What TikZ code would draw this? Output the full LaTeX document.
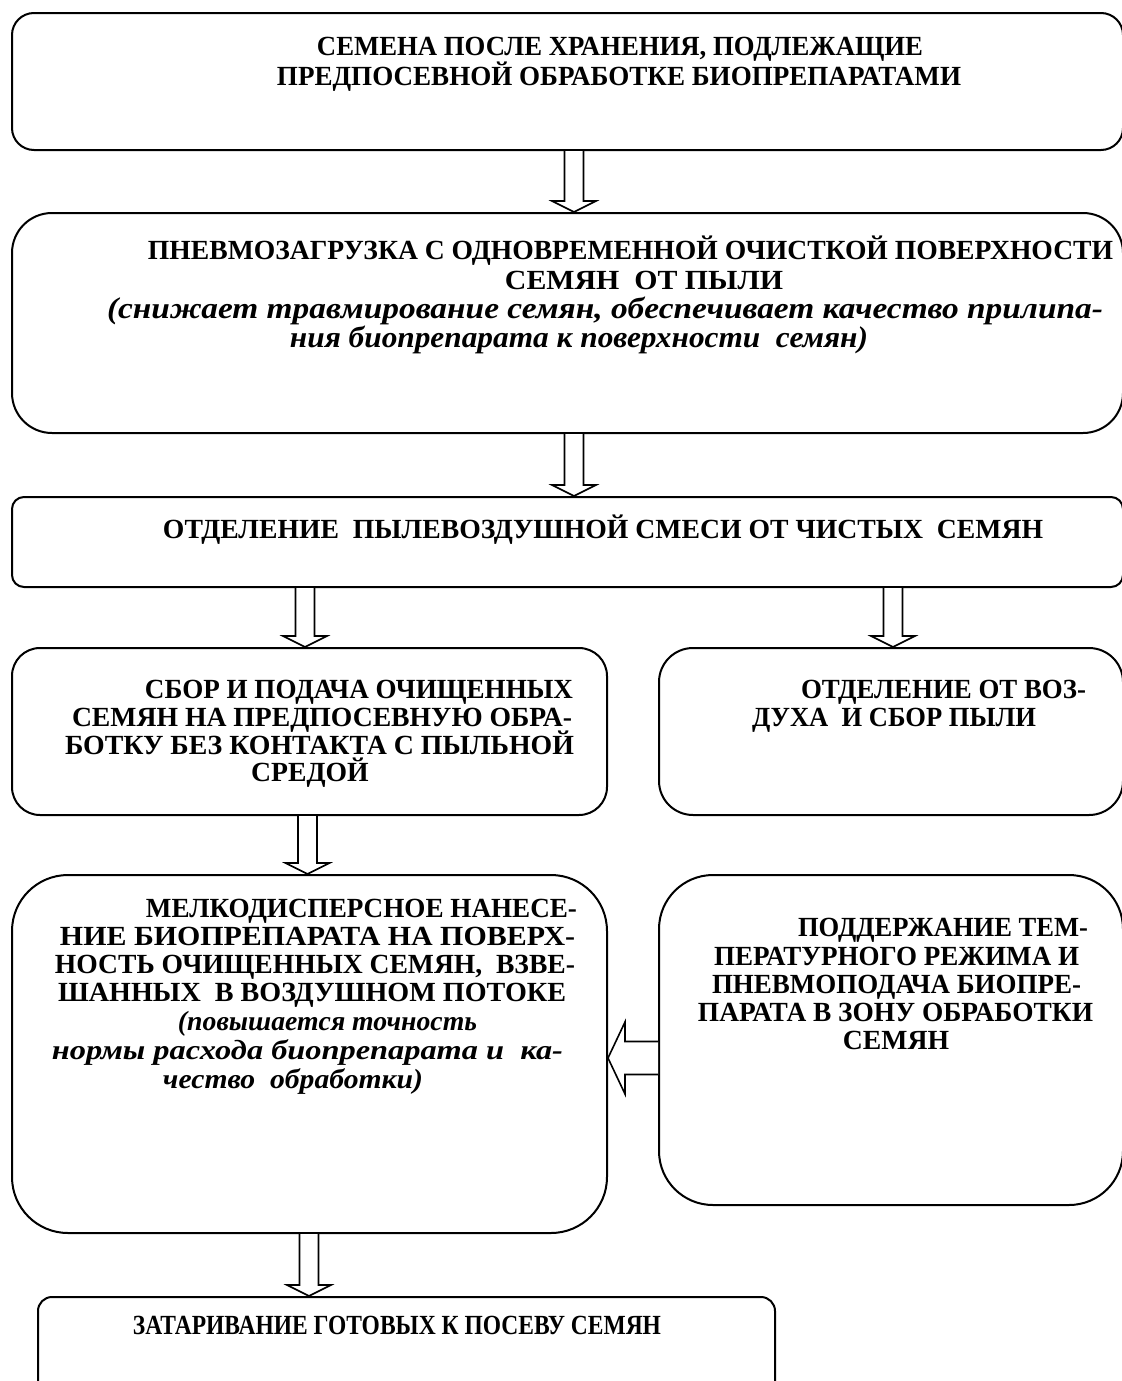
\documentclass[tikz,border=0pt]{standalone}
\usepackage{fontspec}
\setmainfont{Liberation Serif}
\usepackage{graphicx}
\usetikzlibrary{calc}
\tikzset{
  box/.style={draw, line width=1pt, inner sep=0pt, fill=none},
  blk/.style={draw, line width=0.8pt, line join=miter, fill=white},
  ln/.style={anchor=base, inner sep=0pt, font=\fontsize{13.85}{14}\selectfont\bfseries},
  itl/.style={ln, font=\fontsize{13.85}{14}\selectfont\bfseries\itshape},
  itb/.style={ln, font=\fontsize{15}{15}\selectfont\bfseries\itshape}
}
% line stretched horizontally to a given width in px
\newcommand\jl[2]{\resizebox{\dimexpr #1pt/2\relax}{\height}{#2}}
% box: name, cx, cy, w, h, radius(pt)
\newcommand\mkbox[6]{\node[box, rounded corners=#6pt, minimum width=#4*0.5pt, minimum height=#5*0.5pt] (#1) at (#2,#3) {};}
% vertical block arrow: from node anchor, to node anchor, x offset (px) from target
\newcommand\varrow[3]{\draw[blk] let \p1=(#1), \p2=($(#2)+(#3,0)$) in
  (\x2-4.75pt,\y1) -- (\x2-4.75pt,\y2+5.5pt) -- (\x2-11pt,\y2+5.5pt) -- (\x2,\y2)
  -- (\x2+11pt,\y2+5.5pt) -- (\x2+4.75pt,\y2+5.5pt) -- (\x2+4.75pt,\y1);}
% horizontal block arrow pointing left: from, to, y offset (px) from source
\newcommand\harrow[3]{\draw[blk] let \p1=($(#1)+(0,#3)$), \p2=(#2) in
  (\x1,\y1+8.25pt) -- (\x2+8.5pt,\y1+8.25pt) -- (\x2+8.5pt,\y1+18pt) -- (\x2,\y1)
  -- (\x2+8.5pt,\y1-18pt) -- (\x2+8.5pt,\y1-8.25pt) -- (\x1,\y1-8.25pt);}
\begin{document}
\begin{tikzpicture}[x=0.5pt,y=-0.5pt]
\useasboundingbox (0,0) rectangle (1121,1381);
% boxes
\mkbox{b1}{567.5}{81.5}{1111}{137}{11}
\mkbox{b2}{567.5}{323}{1111}{220}{20}
\mkbox{b3}{567.5}{542}{1111}{90}{6}
\mkbox{b4l}{309.5}{731.5}{595}{167}{14}
\mkbox{b4r}{891}{731.5}{464}{167}{17}
\mkbox{b5l}{309.5}{1054}{595}{358}{28}
\mkbox{b5r}{891}{1040}{464}{330}{27}
\mkbox{b6}{406.5}{1346}{737}{98}{7}
% arrows
\varrow{b1.south}{b2.north}{6.5}
\varrow{b2.south}{b3.north}{6.5}
\varrow{b3.south}{b4l.north}{-4.5}
\varrow{b3.south}{b4r.north}{2}
\varrow{b4l.south}{b5l.north}{-2}
\varrow{b5l.south}{b6.north}{-97.5}
\harrow{b5r.west}{b5l.east}{18}
% texts
\node[ln] (t1a) at (620,55) {\jl{606}{СЕМЕНА ПОСЛЕ ХРАНЕНИЯ, ПОДЛЕЖАЩИЕ}};
\node[ln] (t1b) at (619,85) {\jl{684}{ПРЕДПОСЕВНОЙ ОБРАБОТКЕ БИОПРЕПАРАТАМИ}};
\node[ln] (t2a) at (630.5,259) {\jl{965}{ПНЕВМОЗАГРУЗКА С ОДНОВРЕМЕННОЙ ОЧИСТКОЙ ПОВЕРХНОСТИ}};
\node[ln] (t2b) at (644,289) {\jl{278}{СЕМЯН\ \ ОТ ПЫЛИ}};
\node[itb] (t2c) at (605,318) {\jl{996}{(снижает травмирование семян, обеспечивает качество прилипа-}};
\node[itb] (t2d) at (579,347) {\jl{578}{ния биопрепарата к поверхности\ \ семян)}};
\node[ln] (t3) at (603,538) {\jl{880}{ОТДЕЛЕНИЕ\ \ ПЫЛЕВОЗДУШНОЙ СМЕСИ ОТ ЧИСТЫХ\ \ СЕМЯН}};
\node[ln] (t4a) at (359,698) {\jl{428}{СБОР И ПОДАЧА ОЧИЩЕННЫХ}};
\node[ln] (t4b) at (322,726) {\jl{500}{СЕМЯН НА ПРЕДПОСЕВНУЮ ОБРА-}};
\node[ln] (t4c) at (319.5,754) {\jl{509}{БОТКУ БЕЗ КОНТАКТА С ПЫЛЬНОЙ}};
\node[ln] (t4d) at (310,781) {СРЕДОЙ};
\node[ln] (t4e) at (943.5,698) {\jl{285}{ОТДЕЛЕНИЕ ОТ ВОЗ-}};
\node[ln] (t4f) at (894,726) {\jl{284}{ДУХА\ \ И СБОР ПЫЛИ}};
\node[ln] (t5a) at (361.5,917) {\jl{431}{МЕЛКОДИСПЕРСНОЕ НАНЕСЕ-}};
\node[ln] (t5b) at (317.5,945) {\jl{515}{НИЕ БИОПРЕПАРАТА НА ПОВЕРХ-}};
\node[ln] (t5c) at (315,973) {\jl{520}{НОСТЬ ОЧИЩЕННЫХ СЕМЯН,\ \ ВЗВЕ-}};
\node[ln] (t5d) at (312,1001) {\jl{508}{ШАННЫХ\ \ В ВОЗДУШНОМ ПОТОКЕ}};
\node[itl] (t5e) at (327.5,1030) {\jl{299}{(повышается точность}};
\node[itl] (t5f) at (307.5,1059) {\jl{511}{нормы расхода биопрепарата и\ \ ка-}};
\node[itl] (t5g) at (293,1088) {\jl{260}{чество\ \ обработки)}};
\node[ln] (t5h) at (943,936) {\jl{290}{ПОДДЕРЖАНИЕ ТЕМ-}};
\node[ln] (t5i) at (896.5,965) {\jl{365}{ПЕРАТУРНОГО РЕЖИМА И}};
\node[ln] (t5j) at (896.5,993) {\jl{369}{ПНЕВМОПОДАЧА БИОПРЕ-}};
\node[ln] (t5k) at (895.5,1021) {\jl{395}{ПАРАТА В ЗОНУ ОБРАБОТКИ}};
\node[ln] (t5l) at (896,1049) {СЕМЯН};
\node[ln] (t6) at (397,1334) {\jl{528}{ЗАТАРИВАНИЕ ГОТОВЫХ К ПОСЕВУ СЕМЯН}};
\end{tikzpicture}
\end{document}
